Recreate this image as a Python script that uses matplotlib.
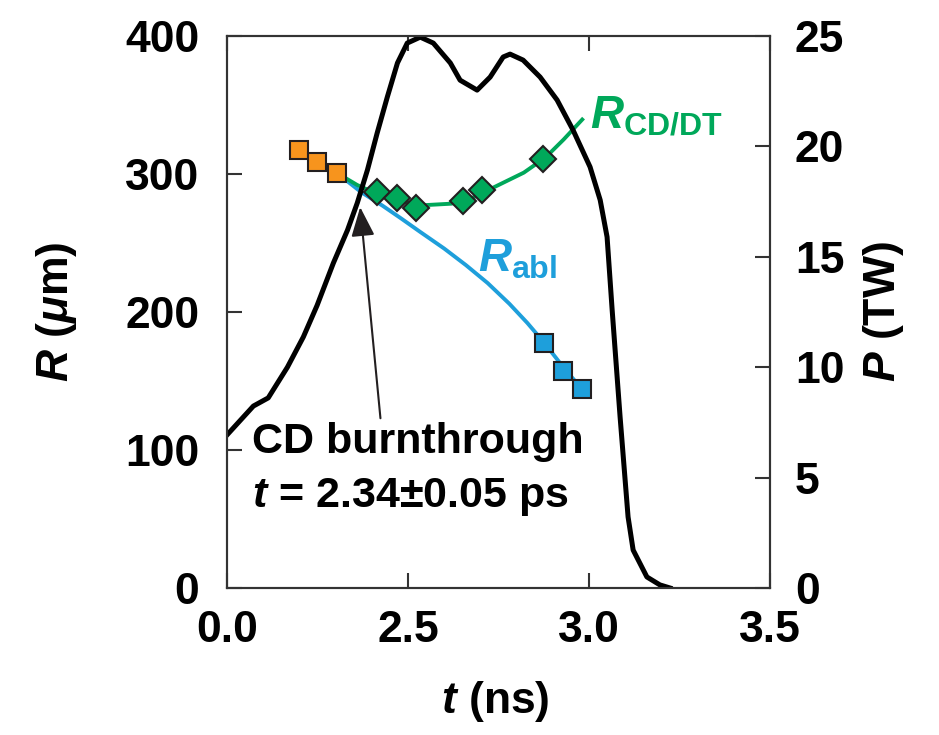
import numpy as np
import matplotlib.pyplot as plt

plt.rcParams['font.family'] = ['Liberation Sans', 'DejaVu Sans']
plt.rcParams['font.weight'] = 'bold'
plt.rcParams['axes.labelweight'] = 'bold'
plt.rcParams['mathtext.fontset'] = 'custom'
plt.rcParams['mathtext.rm'] = 'Liberation Sans:bold'
plt.rcParams['mathtext.it'] = 'Liberation Sans:italic:bold'
plt.rcParams['mathtext.bf'] = 'Liberation Sans:bold'

# laser power (TW) vs time (ns)
t_power = [2.000, 2.073, 2.114, 2.167, 2.211, 2.249, 2.294, 2.333, 2.360, 2.388,
           2.415, 2.443, 2.471, 2.498, 2.534, 2.570, 2.617, 2.644, 2.691, 2.727,
           2.763, 2.782, 2.818, 2.865, 2.912, 2.956, 3.003, 3.031, 3.050, 3.064,
           3.086, 3.108, 3.122, 3.160, 3.196, 3.224]
power = [6.93, 8.24, 8.61, 10.0, 11.37, 12.8, 14.72, 16.21, 17.44, 18.93,
         20.61, 22.24, 23.78, 24.68, 24.95, 24.68, 23.78, 23.0, 22.55, 23.14,
         24.05, 24.18, 23.91, 23.14, 22.1, 20.74, 19.07, 17.57, 15.9, 12.6,
         7.74, 3.22, 1.72, 0.50, 0.14, 0.0]

# measured radii (um)
t_orange = [2.200, 2.249, 2.304]
r_orange = [317.4, 308.7, 300.7]
t_green = [2.415, 2.470, 2.523, 2.653, 2.705, 2.874]
r_green = [287.0, 282.6, 275.4, 280.4, 288.4, 310.9]
t_blue = [2.877, 2.929, 2.981]
r_blue = [177.5, 157.2, 144.2]

# fitted curves
t_cddt = [2.304, 2.36, 2.42, 2.48, 2.55, 2.62, 2.68, 2.75, 2.82, 2.88, 2.93, 2.985]
r_cddt = [300.7, 292.0, 285.0, 280.0, 277.5, 278.5, 283.0, 292.0, 301.0, 312.0, 325.0, 340.5]
t_abl = [2.304, 2.37, 2.43, 2.48, 2.534, 2.60, 2.66, 2.72, 2.78, 2.83, 2.877, 2.929, 2.981]
r_abl = [300.7, 287.0, 277.0, 268.0, 258.0, 246.0, 234.0, 221.0, 206.0, 192.0, 177.5, 160.0, 144.0]

x_ticks = [2.0, 2.5, 3.0, 3.5]
x_ticklabels = ['0.0', '2.5', '3.0', '3.5']

green = '#00A85A'
blue = '#1E9FDB'
orange = '#F7941D'
edge = '#231F20'
spine = '#333333'

fig = plt.figure(figsize=(9.39, 7.35), dpi=100)
ax = fig.add_axes([0.2417, 0.2, 0.5783, 0.751])
ax2 = ax.twinx()

ax.plot(t_abl, r_abl, color=blue, lw=2.8, solid_capstyle='butt', solid_joinstyle='round', zorder=2)
ax.plot(t_cddt, r_cddt, color=green, lw=2.8, solid_capstyle='butt', solid_joinstyle='round', zorder=2)
ax.plot(t_orange, r_orange, 's', ms=13, mfc=orange, mec=edge, mew=1.5, zorder=3)
ax.plot(t_green, r_green, 'D', ms=13, mfc=green, mec=edge, mew=1.5, zorder=3)
ax.plot(t_blue, r_blue, 's', ms=13, mfc=blue, mec=edge, mew=1.5, zorder=3)

ax2.plot(t_power, power, color='black', lw=3.6, solid_joinstyle='round')

ax.annotate('', xy=(2.368, 276), xytext=(2.424, 123),
            arrowprops=dict(arrowstyle='-|>,head_length=0.4,head_width=0.16',
                            mutation_scale=45, color=edge, lw=1.5,
                            shrinkA=0, shrinkB=0))
ax.text(2.070, 97.8, 'CD burnthrough', fontsize=31, va='baseline', ha='left')
ax.text(2.070, 58.7, r'$t$ = 2.34±0.05 ps', fontsize=31, va='baseline', ha='left')

ax.text(3.004, 333, r'$R_{\mathrm{CD/DT}}$', fontsize=33, color=green,
        va='baseline', ha='left')
ax.text(2.694, 229, r'$R_{\mathrm{abl}}$', fontsize=33, color=blue,
        va='baseline', ha='left')

ax.set_xlim(2.0, 3.5)
ax.set_ylim(0, 400)
ax2.set_ylim(0, 25)
ax.set_xticks(x_ticks)
ax.set_xticklabels(x_ticklabels)
ax.set_yticks([0, 100, 200, 300, 400])
ax2.set_yticks([0, 5, 10, 15, 20, 25])

for a in (ax, ax2):
    for s in a.spines.values():
        s.set_color(spine)
        s.set_linewidth(1.5)

ax.tick_params(axis='x', direction='in', top=True, length=11, width=1.5,
               color=spine, labelsize=32, pad=16)
ax.tick_params(axis='y', direction='in', left=True, right=False, length=11,
               width=1.5, color=spine, labelsize=32, pad=20)
ax2.tick_params(axis='y', direction='in', length=11, width=1.5, color=spine,
                labelsize=32, pad=18)

ax.set_xlabel(r'$t$ (ns)', fontsize=32, fontweight='bold')
ax.xaxis.set_label_coords(0.4936, -0.165)
ax.set_ylabel(r'$R$ ($\mu$m)', fontsize=32, fontweight='bold')
ax.yaxis.set_label_coords(-0.272, 0.50)
ax2.set_ylabel(r'$P$ (TW)', fontsize=32, fontweight='bold', rotation=90)
ax2.yaxis.set_label_coords(1.168, 0.50)

fig.savefig('out.png', dpi=100)
